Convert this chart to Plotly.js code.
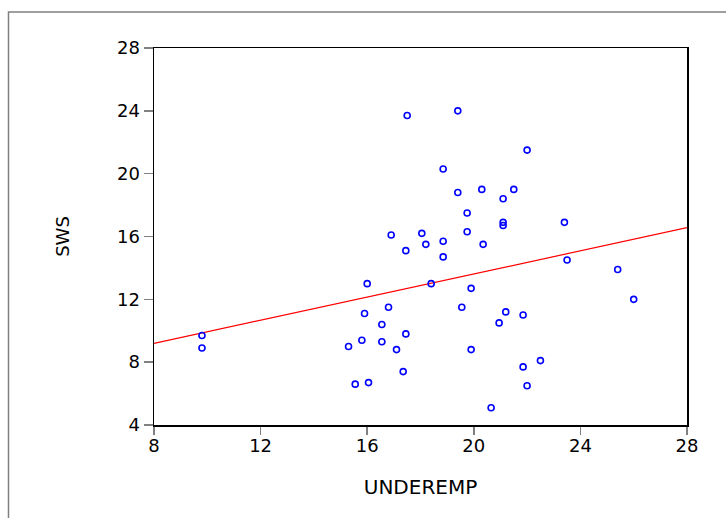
<!DOCTYPE html>
<html>
<head>
<meta charset="utf-8">
<script src="https://cdn.plot.ly/plotly-3.0.1.min.js"></script>
<style>html,body{margin:0;padding:0;background:#fff;}#chart{width:726px;height:518px;}</style>
</head>
<body>
<div id="chart"></div>
<script>
// UNDEREMP (x) and SWS (y) values
var underemp = [19.4, 17.5, 22.0, 18.85, 19.4, 20.3, 21.5, 21.1, 19.75, 21.1, 21.1, 23.4,
  18.05, 16.9, 19.75, 18.85, 18.2, 20.35, 17.45, 18.85, 23.5, 25.4, 16.0, 18.4,
  19.9, 26.0, 19.55, 16.8, 21.2, 15.9, 21.85, 20.95, 16.55, 17.45, 9.8, 15.8,
  16.55, 15.3, 9.8, 17.1, 19.9, 22.5, 21.85, 17.35, 15.55, 16.05, 22.0, 20.65];
var sws = [24.0, 23.7, 21.5, 20.3, 18.8, 19.0, 19.0, 18.4, 17.5, 16.9, 16.7, 16.9,
  16.2, 16.1, 16.3, 15.7, 15.5, 15.5, 15.1, 14.7, 14.5, 13.9, 13.0, 13.0,
  12.7, 12.0, 11.5, 11.5, 11.2, 11.1, 11.0, 10.5, 10.4, 9.8, 9.7, 9.4,
  9.3, 9.0, 8.9, 8.8, 8.8, 8.1, 7.7, 7.4, 6.6, 6.7, 6.5, 5.1];
// fitted regression line endpoints
var fitX = [8, 28];
var fitY = [9.2, 16.56];
var tickVals = [4, 8, 12, 16, 20, 24, 28];
var xTickVals = [8, 12, 16, 20, 24, 28];

var font = 'DejaVu Sans, Arial, sans-serif';
var traces = [
  {x: fitX, y: fitY, type: 'scatter', mode: 'lines', line: {color: '#ff0000', width: 1.2}, hoverinfo: 'skip', showlegend: false},
  {x: underemp, y: sws, type: 'scatter', mode: 'markers',
   marker: {symbol: 'circle-open', size: 6, color: '#0000ff', line: {color: '#0000ff', width: 1.6}}, showlegend: false}
];
var layout = {
  width: 726, height: 518,
  margin: {l: 154, r: 39, t: 48, b: 93, pad: 0},
  paper_bgcolor: '#ffffff', plot_bgcolor: '#ffffff',
  font: {family: font, size: 18, color: '#000'},
  showlegend: false,
  xaxis: {
    range: [8, 28], tickvals: xTickVals, ticktext: xTickVals.map(String),
    ticks: 'outside', ticklen: 8, tickcolor: '#808080', tickwidth: 1.5,
    ticklabelstandoff: -4,
    showline: true, linecolor: '#000', linewidth: 1.5, mirror: true,
    showgrid: false, zeroline: false,
    tickfont: {family: font, size: 18, color: '#000'},
    title: {text: 'UNDEREMP', font: {family: font, size: 20, color: '#000'}, standoff: 25}
  },
  yaxis: {
    range: [4, 28], tickvals: tickVals, ticktext: tickVals.map(String),
    ticks: 'outside', ticklen: 9, tickcolor: '#808080', tickwidth: 1.5,
    showline: true, linecolor: '#000', linewidth: 1.5, mirror: true,
    showgrid: false, zeroline: false,
    tickfont: {family: font, size: 18, color: '#000'},
    title: {text: 'SWS', font: {family: font, size: 18, color: '#000'}, standoff: 42}
  },
  shapes: [{
    type: 'rect', xref: 'paper', yref: 'paper',
    x0: -0.273, x1: 1.2, y0: -0.4, y1: 1.0955,
    line: {color: '#808080', width: 1.5}, fillcolor: 'rgba(0,0,0,0)', layer: 'below'
  }]
};
Plotly.newPlot('chart', traces, layout, {staticPlot: true, displayModeBar: false});
</script>
</body>
</html>
